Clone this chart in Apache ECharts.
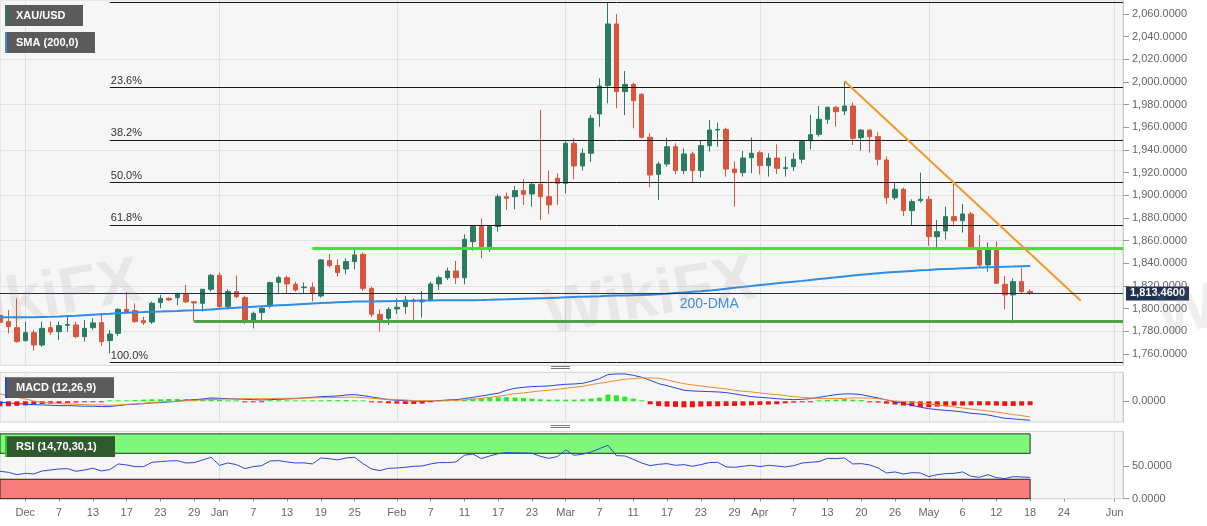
<!DOCTYPE html>
<html><head><meta charset="utf-8">
<script src="https://cdn.jsdelivr.net/npm/echarts/dist/echarts.min.js"></script>
<style>html,body{margin:0;padding:0;background:#fff;}#c{width:1207px;height:526px;}</style>
</head><body><div id="c"></div>
<script>
// ---- candles (one per trading day, index 0..122) ----
const opens  = [1794.0,1788.5,1783.2,1771.8,1778.8,1767.9,1783.2,1779.7,1785.3,1785.6,1775.3,1783.2,1787.6,1771.8,1778.2,1799.4,1798.2,1789.4,1788.2,1805.3,1809.1,1809.7,1812.4,1806.0,1804.7,1817.1,1829.4,1801.8,1815.0,1809.7,1790.0,1796.5,1802.4,1823.2,1827.3,1821.5,1818.5,1818.8,1811.2,1842.4,1838.0,1835.0,1841.5,1847.9,1817.9,1795.0,1791.5,1799.7,1801.8,1807.6,1806.0,1807.6,1821.8,1827.3,1833.2,1827.3,1859.1,1872.4,1854.7,1872.4,1898.8,1898.8,1904.1,1901.2,1909.7,1898.8,1915.0,1910.6,1945.9,1925.9,1937.1,1971.8,1996.8,2051.2,1991.5,1997.9,1989.1,1951.2,1918.5,1927.6,1942.9,1921.8,1936.5,1921.8,1943.8,1957.6,1958.2,1923.2,1920.0,1933.2,1937.6,1926.2,1932.9,1923.6,1925.3,1931.8,1948.2,1953.8,1967.1,1977.6,1974.4,1978.8,1950.9,1957.6,1951.8,1931.2,1897.9,1905.3,1886.5,1895.3,1896.5,1863.5,1868.5,1881.2,1877.6,1883.5,1853.2,1838.5,1851.8,1821.5,1812.1,1823.8,1815.0];
const closes = [1788.0,1784.1,1770.9,1778.8,1767.9,1782.6,1779.4,1785.0,1785.9,1775.3,1782.6,1787.4,1770.9,1777.6,1799.4,1796.5,1788.5,1787.6,1804.7,1809.1,1807.6,1813.0,1805.9,1805.0,1817.1,1829.4,1801.8,1815.0,1810.6,1790.0,1795.9,1800.3,1822.9,1827.3,1821.8,1816.5,1819.0,1814.1,1843.0,1838.0,1831.8,1841.5,1847.4,1817.9,1795.0,1790.0,1799.4,1801.2,1807.6,1806.2,1807.6,1821.8,1827.3,1833.2,1827.3,1861.2,1872.4,1854.7,1872.4,1898.8,1897.4,1904.1,1900.9,1909.7,1898.8,1891.5,1910.6,1945.9,1925.9,1937.1,1968.0,1996.5,2051.2,1991.5,1997.9,1983.5,1951.2,1917.9,1927.6,1942.9,1921.8,1936.5,1921.8,1943.8,1957.6,1958.2,1923.2,1920.0,1932.9,1937.1,1926.2,1932.9,1923.8,1924.4,1931.8,1947.4,1953.5,1967.1,1977.6,1973.8,1978.8,1950.3,1957.6,1951.8,1931.8,1897.9,1905.3,1886.5,1894.4,1896.5,1863.5,1867.9,1881.2,1877.6,1883.5,1854.1,1838.5,1851.8,1822.4,1812.1,1823.8,1815.0,1813.46];
const lows   = [1783.0,1778.2,1770.0,1770.9,1763.0,1766.5,1776.8,1772.4,1779.7,1773.8,1770.9,1781.2,1767.1,1760.6,1775.9,1795.9,1787.6,1785.6,1786.5,1800.3,1806.8,1803.2,1805.3,1788.5,1797.4,1815.0,1799.4,1799.4,1809.1,1786.5,1782.6,1790.0,1800.3,1814.1,1813.0,1815.0,1813.5,1806.2,1809.7,1836.2,1828.2,1830.3,1834.7,1815.6,1792.4,1779.7,1785.6,1795.3,1795.3,1790.0,1792.1,1806.2,1816.5,1825.3,1821.8,1821.5,1851.2,1844.4,1850.3,1867.9,1887.1,1887.7,1891.5,1890.0,1878.2,1883.5,1891.5,1901.8,1914.1,1921.8,1929.7,1960.6,1981.2,1976.8,1970.9,1959.1,1950.3,1907.1,1895.9,1925.3,1918.8,1918.8,1911.2,1915.9,1938.5,1942.9,1916.5,1890.0,1916.5,1919.4,1918.5,1916.5,1918.8,1916.5,1921.5,1928.2,1940.6,1951.8,1963.0,1960.6,1970.9,1944.4,1939.4,1937.6,1926.5,1892.4,1895.9,1881.8,1873.0,1893.5,1855.3,1851.8,1861.2,1872.4,1867.1,1853.2,1837.1,1832.6,1821.8,1799.4,1787.1,1813.5,1812.1];
const highs  = [1812.0,1798.8,1809.1,1788.5,1781.2,1788.5,1788.5,1788.5,1792.9,1788.5,1790.0,1791.5,1795.9,1781.2,1800.3,1814.4,1804.7,1792.9,1806.2,1812.1,1810.0,1814.1,1820.9,1806.5,1817.3,1830.6,1831.8,1817.1,1829.1,1811.5,1797.4,1802.4,1823.8,1828.8,1829.1,1823.8,1823.2,1823.2,1843.8,1848.2,1843.5,1844.4,1852.4,1849.4,1819.4,1799.4,1801.2,1809.1,1811.2,1809.1,1815.6,1823.8,1829.1,1836.2,1842.1,1865.6,1873.8,1879.7,1873.0,1900.9,1902.4,1908.2,1914.1,1911.2,1975.3,1921.8,1919.4,1947.4,1950.3,1941.5,1970.9,2003.2,2070.0,2060.0,2009.7,1999.4,1990.0,1954.7,1929.7,1950.9,1945.9,1941.5,1938.5,1948.2,1966.5,1964.1,1959.7,1930.0,1939.1,1950.9,1939.4,1937.1,1945.0,1934.1,1937.6,1948.8,1970.9,1978.8,1978.2,1978.8,2000.3,1981.8,1958.2,1958.2,1955.6,1934.1,1911.2,1906.8,1896.5,1920.0,1899.4,1878.2,1890.0,1910.0,1892.4,1885.3,1865.0,1858.2,1859.4,1828.8,1826.8,1836.2,1817.1];
// ---- 200-day SMA ----
const sma200 = [1792.4,1792.4,1792.4,1792.4,1792.4,1792.6,1792.8,1793.1,1793.5,1793.8,1794.2,1794.6,1795.0,1795.4,1795.9,1796.3,1796.8,1797.0,1797.3,1797.5,1797.8,1798.0,1798.3,1798.5,1798.8,1799.3,1799.8,1800.3,1800.8,1801.3,1801.7,1802.1,1802.5,1802.9,1803.3,1803.7,1804.1,1804.5,1804.9,1805.3,1805.6,1805.9,1806.2,1806.3,1806.4,1806.5,1806.6,1806.7,1806.8,1807.0,1807.1,1807.2,1807.3,1807.4,1807.4,1807.5,1807.5,1807.6,1807.8,1808.1,1808.3,1808.6,1808.8,1809.0,1809.2,1809.4,1809.7,1810.0,1810.3,1810.6,1810.8,1811.0,1811.3,1811.5,1811.7,1811.9,1812.1,1812.3,1812.6,1813.1,1813.7,1814.3,1814.8,1815.3,1815.9,1816.7,1817.5,1818.4,1819.2,1820.0,1820.9,1821.6,1822.3,1823.1,1823.8,1824.5,1825.3,1826.1,1826.9,1827.6,1828.4,1829.2,1830.0,1830.6,1831.2,1831.8,1832.3,1832.8,1833.3,1833.8,1834.2,1834.7,1835.0,1835.3,1835.6,1835.9,1836.2,1836.5,1836.7,1836.9,1837.1,1837.4,1837.6];
// ---- MACD (12,26,9) ----
const macdLine = [-1.2,-2.0,-2.8,-3.6,-4.0,-4.4,-4.8,-5.2,-5.2,-5.6,-6.0,-6.0,-6.4,-6.4,-5.2,-4.0,-3.6,-2.8,-2.0,-1.6,-0.8,0,1.2,2.0,2.8,4.0,3.6,3.2,2.8,2.4,2.0,1.6,2.0,2.4,2.8,3.2,4.0,4.8,5.6,6.0,6.4,7.6,8.1,6.8,5.2,3.6,2.0,1.2,0.8,0.4,0,0.4,0.8,1.6,2.0,3.2,4.8,6.4,8.1,9.7,13.3,15.7,16.9,17.7,18.1,18.5,19.7,20.5,20.9,21.7,24.2,27.4,32.2,33.0,33.0,31.4,29.0,25.4,21.3,18.9,16.1,13.3,12.5,12.1,11.7,11.3,10.5,8.9,7.2,5.6,4.8,4.0,3.2,2.4,2.0,2.4,3.2,4.8,6.4,8.1,8.9,8.9,8.1,6.0,4.0,1.6,-0.8,-2.4,-4.8,-7.2,-8.9,-10.1,-10.9,-11.7,-12.9,-14.5,-15.3,-16.5,-18.5,-20.5,-21.3,-22.1,-22.9];
const signalLine = [8.9,6.8,4.8,2.8,0.4,-1.2,-2.0,-2.8,-3.2,-3.6,-4.0,-4.4,-4.4,-4.8,-4.4,-3.6,-3.2,-2.4,-1.6,-0.8,-0.4,0,0.8,1.2,1.6,2.0,2.4,2.8,2.8,3.2,3.2,3.2,3.2,3.6,3.6,3.6,4.0,4.0,4.4,4.4,4.8,4.8,5.2,4.4,3.6,2.8,2.4,2.0,1.6,0.8,0.8,0.8,0.4,0.8,1.2,1.6,2.4,3.6,4.8,6.0,7.6,9.3,10.1,11.3,12.5,13.3,14.5,15.7,16.9,18.1,20.1,21.7,23.3,25.0,26.6,27.4,28.2,28.2,27.8,25.8,23.3,21.3,19.7,18.5,17.3,16.1,14.9,13.3,12.1,11.3,10.1,8.9,8.1,6.8,5.6,4.8,4.0,3.6,3.2,3.2,3.6,4.0,4.0,4.0,3.2,1.6,0.4,-0.4,-1.2,-2.0,-3.2,-4.4,-5.6,-6.8,-8.1,-9.3,-10.5,-11.7,-12.9,-14.5,-16.1,-17.3,-18.9];
const macdHist = [-6.0,-6.0,-5.5,-5.0,-4.0,-3.2,-2.8,-2.4,-2.0,-1.6,-1.2,-1.0,-0.8,0.8,1.0,1.2,1.6,2.0,2.4,2.4,2.8,2.8,2.8,2.4,2.8,3.2,1.6,1.0,0.6,-0.6,-1.0,-0.8,0.6,0.8,0.8,0.8,1.0,1.2,1.2,1.4,1.4,1.6,1.2,0.8,-0.8,-1.6,-2.4,-2.8,-3.2,-3.2,-2.8,-1.2,0.4,0.8,0.8,1.6,3.2,4.0,4.4,4.8,4.8,4.4,4.0,3.2,2.4,2.0,2.0,2.0,2.0,2.4,3.2,4.4,8.1,7.2,5.6,3.2,0.6,-3.6,-5.6,-6.4,-6.8,-7.2,-7.2,-6.4,-6.0,-6.0,-5.6,-5.6,-5.2,-4.8,-4.4,-4.0,-3.6,-2.4,-1.6,-0.8,-0.4,0.8,1.6,2.0,2.8,2.0,1.6,-0.6,-1.6,-2.8,-4.0,-5.2,-6.0,-6.8,-7.2,-6.4,-6.0,-5.2,-5.2,-4.8,-4.8,-4.8,-5.2,-5.6,-5.6,-5.2,-4.8];
// ---- RSI (14) ----
const rsi14 = [42.3,40.7,37.1,39.2,38.2,42.8,44.3,45.9,46.4,42.3,44.3,46.9,42.8,44.9,53.6,52.1,49.5,49.5,56.2,57.2,58.2,58.7,55.1,55.7,59.8,63.9,51.5,55.1,52.6,46.4,49.5,51.0,58.2,58.8,56.7,55.1,55.3,53.6,62.9,61.8,59.8,62.9,63.9,54.1,45.9,43.3,46.9,47.4,48.5,50.0,50.5,53.6,55.7,55.7,56.7,67.0,69.0,61.8,65.9,69.5,71.1,70.6,70.6,70.1,65.4,62.3,64.9,75.2,67.0,68.5,72.1,77.3,82.4,66.5,65.9,60.8,55.1,51.0,53.1,54.1,51.5,52.6,50.0,52.6,55.7,56.2,49.0,48.5,50.0,51.5,49.5,51.5,50.5,49.0,51.0,55.1,56.2,57.2,62.3,61.8,62.9,53.6,54.1,52.1,47.4,39.7,41.3,38.2,40.2,39.7,34.1,37.1,38.7,39.2,41.3,34.6,33.0,37.1,32.5,31.0,34.1,33.5,33.0];
// ---- axis ticks ----
const tickIdx  = [3,7,11,15,19,23,26,30,34,38,42,47,51,55,59,63,67,71,75,79,83,87,90,94,98,102,106,110,114,118,122,126,132];
const tickText = ['Dec','7','13','17','23','29','Jan','7','13','19','25','Feb','7','11','17','23','Mar','7','11','17','23','29','Apr','7','13','20','26','May','6','12','18','24','Jun'];
const monthIdx = [3,26,47,67,90,110,132];
const priceTicks = [1760,1780,1800,1820,1840,1860,1880,1900,1920,1940,1960,1980,2000,2020,2040,2060];
// ---- drawn levels ----
const fibNames  = ['', '23.6%','38.2%','50.0%','61.8%','100.0%'];
const fibPrices = [2070.3,1995.4,1949.0,1911.5,1874.0,1752.7];
const fibStart = 13;
const resistPrice = 1853.3, resistStart = 37;
const supportPrice = 1788.8, supportStart = 23;
const trendFrom = [100, 2000.9], trendTo = [128, 1807.0];
const lastPrice = 1813.46;
const dmaLabelAt = [84, 1804.1];

const NCAT = 134, LAST = NCAT - 1;
const cats = Array.from({length: NCAT}, (_, i) => 'c' + i);
const tickSet = new Set(tickIdx), monthSet = new Set(monthIdx);
const labelMap = {}; tickIdx.forEach((k, j) => labelMap[k] = tickText[j]);
const FONT = "'Liberation Sans', Arial, sans-serif";
const fmt4 = v => Number(v).toLocaleString('en-US', {minimumFractionDigits: 4, maximumFractionDigits: 4});

function xAxisFor(gi, show) {
  return {type: 'category', gridIndex: gi, data: cats, boundaryGap: false,
    axisLine: {show: false},
    axisTick: {show: show, interval: (i) => tickSet.has(i), length: 3, lineStyle: {color: '#999'}},
    axisLabel: {show: show, interval: (i) => tickSet.has(i), formatter: (v, i) => labelMap[i] || '',
      color: '#666', fontSize: 11, fontFamily: FONT, margin: 9},
    splitLine: {show: true, interval: (i) => monthSet.has(i), lineStyle: {color: '#e0e0e0', width: 1}}};
}
function yAxisFor(gi, min, max, interval, labels, colors) {
  return {type: 'value', gridIndex: gi, position: 'right', min: min, max: max, interval: interval,
    axisLine: {show: true, lineStyle: {color: '#c8ccd4'}},
    axisTick: {show: true, length: 6, customValues: labels, lineStyle: {color: '#999'}},
    axisLabel: {customValues: labels, formatter: fmt4, color: '#666', fontSize: 11, fontFamily: FONT, margin: 9},
    splitLine: {show: true, showMaxLine: false, lineStyle: {color: colors, width: 1}}};
}

const candleData = opens.map((o, i) => [o, closes[i], lows[i], highs[i]]);
const mk = [];
fibPrices.forEach((p, j) => {
  mk.push([{coord: [fibStart, p], lineStyle: {color: '#1a1a1a', width: 1, type: 'solid'},
    label: {show: fibNames[j] !== '', formatter: fibNames[j], position: 'insideStartTop', color: '#333',
      fontSize: 11, fontFamily: FONT, distance: 1}},
    {coord: [LAST, p]}]);
});
mk.push([{coord: [resistStart, resistPrice], lineStyle: {color: '#3ee52a', width: 3, type: 'solid'}, label: {show: false}}, {coord: [LAST, resistPrice]}]);
mk.push([{coord: [supportStart, supportPrice], lineStyle: {color: '#4fa24a', width: 3, type: 'solid'}, label: {show: false}}, {coord: [LAST, supportPrice]}]);
mk.push([{coord: trendFrom, lineStyle: {color: '#f39a2b', width: 2, type: 'solid'}, label: {show: false}}, {coord: trendTo}]);
mk.push({yAxis: lastPrice, lineStyle: {color: '#1d2f4d', width: 1, type: 'solid'},
  label: {show: true, position: 'end', formatter: fmt4(lastPrice), backgroundColor: '#1d3152', color: '#fff',
    fontWeight: 'bold', fontSize: 11, fontFamily: FONT, padding: [2, 4, 1, 4], distance: 3}});

const gbox = (x, y, w, h, fill, bar, text) => [
  {type: 'rect', z: 100, shape: {x: x, y: y, width: w, height: h}, style: {fill: fill}},
  {type: 'rect', z: 101, shape: {x: x, y: y, width: 2, height: h}, style: {fill: bar}},
  {type: 'text', z: 102, x: x + 11, y: y + h / 2, style: {text: text, fill: '#fff', font: "bold 11px 'Liberation Sans', Arial", verticalAlign: 'middle', textVerticalAlign: 'middle'}}
];
const handle = (y) => [
  {type: 'line', z: 100, shape: {x1: 551, y1: y, x2: 570, y2: y}, style: {stroke: '#777', lineWidth: 1}},
  {type: 'line', z: 100, shape: {x1: 551, y1: y + 2, x2: 570, y2: y + 2}, style: {stroke: '#777', lineWidth: 1}}
];
const watermark = (cx, cy) => ({type: 'text', z: 90, x: cx, y: cy, rotation: 0.17, silent: true,
  style: {text: 'WikiFX', fill: 'rgba(150,120,120,0.13)', font: "bold 64px 'Liberation Sans', Arial", align: 'center', verticalAlign: 'middle', textAlign: 'center', textVerticalAlign: 'middle'}});

const option = {
  animation: false,
  backgroundColor: '#ffffff',
  textStyle: {fontFamily: FONT},
  grid: [
    {left: 0, top: 0, width: 1123, height: 365.3, show: true, backgroundColor: '#f6f6f6', borderColor: '#d8d8d8', borderWidth: 1},
    {left: 0, top: 372.3, width: 1123, height: 49.7, show: true, backgroundColor: '#f6f6f6', borderColor: '#cdd1d8', borderWidth: 1},
    {left: 0, top: 431.3, width: 1123, height: 67.4, show: true, backgroundColor: '#f6f6f6', borderColor: '#cdd1d8', borderWidth: 1}
  ],
  xAxis: [xAxisFor(0, false), xAxisFor(1, false), xAxisFor(2, true)],
  yAxis: [
    yAxisFor(0, 1750, 2072.35, 10, priceTicks, ['transparent', '#e3e3e3']),
    yAxisFor(1, -25, 35, 25, [0], ['transparent', '#dcdcdc', 'transparent', 'transparent']),
    yAxisFor(2, 0, 104, 50, [0, 50], ['transparent', '#dcdcdc', 'transparent', 'transparent'])
  ],
  graphic: [].concat(
    [watermark(35, 300), watermark(650, 298), watermark(1262, 300)],
    gbox(5, 5, 78, 21, '#5b5b5b', '#2b7b63', 'XAU/USD'),
    gbox(5, 32, 90, 21, '#5b5b5b', '#2f8de4', 'SMA (200,0)'),
    gbox(5, 377.3, 109, 20.7, '#5b5b5b', '#2846d6', 'MACD (12,26,9)'),
    gbox(5, 436.3, 110, 20.7, '#2f5a2d', '#22cc22', 'RSI (14,70,30,1)'),
    handle(366.5), handle(425.5)
  ),
  series: [
    {type: 'candlestick', name: 'XAU/USD', xAxisIndex: 0, yAxisIndex: 0, data: candleData, barWidth: 5,
      itemStyle: {color: '#2b7b63', color0: '#d8563e', borderColor: '#2b7b63', borderColor0: '#d8563e', borderWidth: 1},
      markLine: {symbol: ['none', 'none'], silent: true, animation: false, data: mk}},
    {type: 'line', name: 'SMA', xAxisIndex: 0, yAxisIndex: 0, data: sma200, showSymbol: false, symbol: 'none',
      lineStyle: {color: '#2f8de4', width: 2}, z: 3,
      markPoint: {symbol: 'rect', symbolSize: 1, itemStyle: {color: 'transparent'}, silent: true,
        data: [{coord: dmaLabelAt, label: {show: true, formatter: '200-DMA', position: 'inside', color: '#3a8ee6', fontSize: 14, fontFamily: FONT}}]}},
    {type: 'bar', name: 'Hist', xAxisIndex: 1, yAxisIndex: 1, data: macdHist, barWidth: 5, barMinHeight: 1,
      itemStyle: {color: (p) => p.value >= 0 ? '#1fee1f' : '#f01010'}},
    {type: 'line', name: 'MACD', xAxisIndex: 1, yAxisIndex: 1, data: macdLine, symbol: 'none', lineStyle: {color: '#2846d6', width: 1}},
    {type: 'line', name: 'Signal', xAxisIndex: 1, yAxisIndex: 1, data: signalLine, symbol: 'none', lineStyle: {color: '#f08a30', width: 1}},
    {type: 'line', name: 'RSI', xAxisIndex: 2, yAxisIndex: 2, data: rsi14, symbol: 'none', lineStyle: {color: '#2f47d4', width: 1}, z: 5,
      markArea: {silent: true, data: [
        [{xAxis: 0, yAxis: 70, itemStyle: {color: '#7ef77a', opacity: 1, borderColor: '#1b3a1b', borderWidth: 1}}, {xAxis: 122, yAxis: 100}],
        [{xAxis: 0, yAxis: 0, itemStyle: {color: '#f77d7d', opacity: 1, borderColor: '#222', borderWidth: 1}}, {xAxis: 122, yAxis: 30}]
      ]}}
  ]
};
const chart = echarts.init(document.getElementById('c'), null, {renderer: 'canvas'});
chart.setOption(option);
</script></body></html>
